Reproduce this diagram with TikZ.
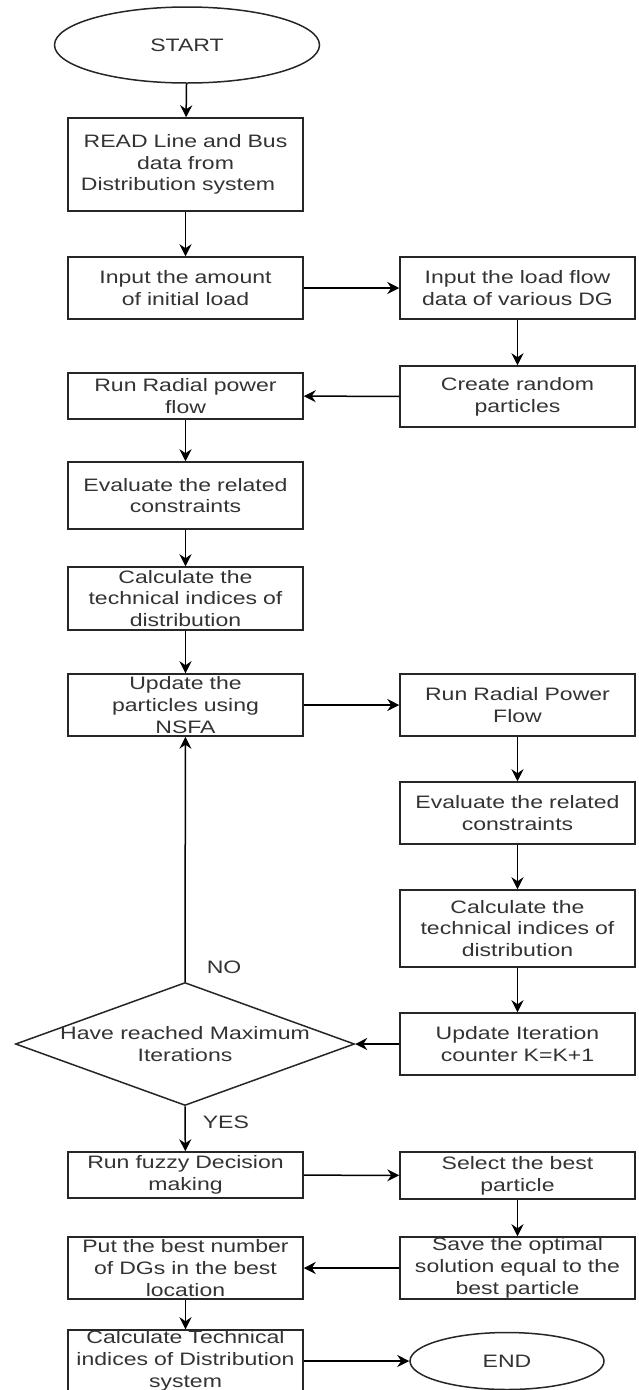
\documentclass[tikz,border=0pt]{standalone}
\usepackage{fontspec}
\setmainfont{Liberation Sans}[FakeStretch=1.28]
\usepackage{tikz}
\usetikzlibrary{arrows.meta,shapes.geometric}
\def\procnode{\node[draw=black!85,rectangle,minimum width=235pt,text width=233pt,align=center,inner sep=0pt,text=black!80]}
\def\termnode{\node[draw=black!85,ellipse,inner sep=0pt,text=black!80]}

\begin{document}
\begin{tikzpicture}[x=1pt,y=-1pt,line width=1.5pt,font=\fontsize{18}{21.7}\selectfont,>={Stealth[length=12pt,width=12pt,inset=4pt]}]
\useasboundingbox (0,0) rectangle (638,1390);
\termnode[minimum width=265pt,minimum height=76pt] (start) at (187,45) {START};
\procnode[minimum height=93pt] (readdata) at (185.5,164.5) {READ Line and Bus\hspace*{18pt}\\data from\hspace*{18pt}\\Distribution system\hspace*{15pt}};
\procnode[minimum height=62pt] (initload) at (185.5,288) {Input the amount\\of initial load};
\procnode[minimum height=62pt] (dgdata) at (517.5,288) {Input the load flow\\data of various DG};
\procnode[minimum height=61pt] (random) at (517.5,396.5) {Create random\\particles};
\procnode[minimum height=46pt] (rpfa) at (185.5,396) {Run Radial power\\flow};
\procnode[minimum height=67pt] (evala) at (185.5,495.5) {Evaluate the related\\constraints};
\procnode[minimum height=63pt] (calca) at (185.5,598.5) {Calculate the\\technical indices of\\distribution};
\procnode[minimum height=62pt] (update) at (185.5,705) {Update the\\particles using\\NSFA};
\procnode[minimum height=62pt] (rpfb) at (517.5,705) {Run Radial Power\\Flow};
\procnode[minimum height=62pt] (evalb) at (517.5,813) {Evaluate the related\\constraints};
\procnode[minimum height=77pt] (calcb) at (517.5,928.5) {Calculate the\\technical indices of\\distribution};
\procnode[minimum height=62pt] (iter) at (517.5,1044) {Update Iteration\\counter K=K+1};
\node[draw=black!85,diamond,minimum width=339pt,minimum height=123pt,inner sep=0pt,
  label={[align=center,text=black!80]center:Have reached Maximum\\Iterations}] (maxit) at (185,1044) {};
\procnode[minimum height=46pt] (fuzzy) at (185.5,1175) {Run fuzzy Decision\\making};
\procnode[minimum height=47pt] (select) at (517.5,1175.5) {Select the best\\particle};
\procnode[minimum height=62pt] (save) at (517.5,1268) {Save the optimal\\solution equal to the\\best particle};
\procnode[minimum height=62pt] (putbest) at (185.5,1268) {Put the best number\\of DGs in the best\\location};
\procnode[minimum height=62pt] (calctech) at (185.5,1361) {Calculate Technical\\indices of Distribution\\system};
\termnode[minimum width=194pt,minimum height=57pt] (finish) at (507,1361) {END};
\draw[->] (start) to (readdata);
\draw[->] (readdata) to (initload);
\draw[->] (initload) to (dgdata);
\draw[->] (dgdata) to (random);
\draw[->] (random) to (rpfa);
\draw[->] (rpfa) to (evala);
\draw[->] (evala) to (calca);
\draw[->] (calca) to (update);
\draw[->] (update) to (rpfb);
\draw[->] (rpfb) to (evalb);
\draw[->] (evalb) to (calcb);
\draw[->] (calcb) to (iter);
\draw[->] (iter) to (maxit.east);
\draw[->] (maxit.north) to node[pos=0.06,anchor=west,xshift=21pt,inner sep=0pt,text=black!80] {NO} (update);
\draw[->] (maxit.south) to node[pos=0.35,anchor=west,xshift=17pt,inner sep=0pt,text=black!80] {YES} (fuzzy);
\draw[->] (fuzzy) to (select);
\draw[->] (select) to (save);
\draw[->] (save) to (putbest);
\draw[->] (putbest) to (calctech);
\draw[->] (calctech) to (finish);
\end{tikzpicture}
\end{document}
